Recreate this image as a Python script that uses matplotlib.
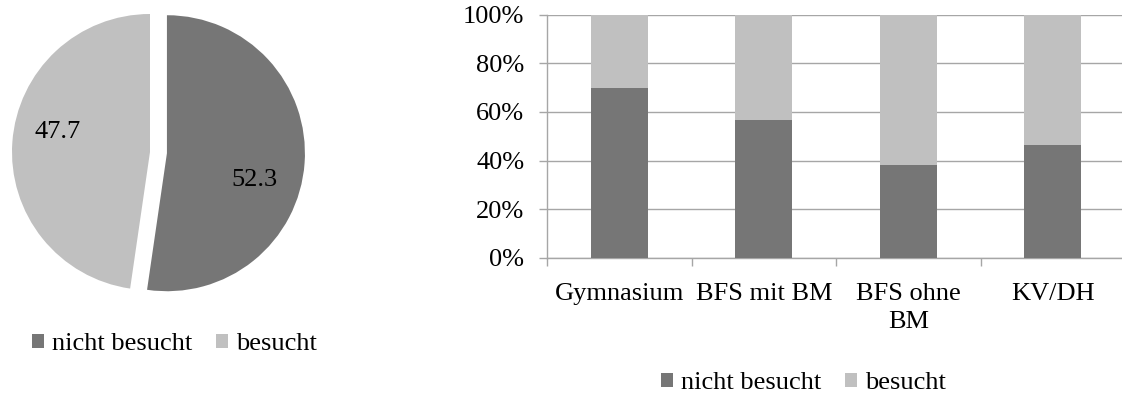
import matplotlib
matplotlib.use("Agg")
import matplotlib.pyplot as plt
from matplotlib.patches import Patch
from matplotlib.ticker import FixedLocator, PercentFormatter

plt.rcParams['font.family'] = ['Liberation Serif', 'DejaVu Serif']
FS = 19

# data
pie_labels = ['nicht besucht', 'besucht']
pie_values = [52.3, 47.7]

categories = ['Gymnasium', 'BFS mit BM', 'BFS ohne\nBM', 'KV/DH']
nicht_besucht = [69.8, 56.8, 38.0, 46.5]
besucht = [30.2, 43.2, 62.0, 53.5]

DARK = '#767676'
LIGHT = '#C0C0C0'
GRID = '#A6A6A6'

W, H = 1122, 396
fig = plt.figure(figsize=(W / 100, H / 100), dpi=100)

# pie: 1 data unit = 138 px, centre at (150, 152) from top-left
r_px = 138
ax_pie = fig.add_axes([0, 0, 330 / W, 1])
wedges, _, autotexts = ax_pie.pie(
    pie_values, colors=[DARK, LIGHT], startangle=90, counterclock=False,
    explode=[0.123, 0], autopct='%.1f', pctdistance=0.7,
    textprops={'fontsize': FS, 'color': 'black'}, frame=True)
ax_pie.set_xlim(-150 / r_px, 180 / r_px)
ax_pie.set_ylim(-(H - 152) / r_px, 152 / r_px)
ax_pie.set_aspect('auto')
ax_pie.axis('off')
# nudge value labels to where the original had them
autotexts[0].set_position((0.76, -0.20))
autotexts[1].set_position((-0.67, 0.145))

handles = [Patch(facecolor=DARK), Patch(facecolor=LIGHT)]
leg_kw = dict(ncol=2, frameon=False, fontsize=FS, handlelength=0.45,
              handleheight=0.45, handletextpad=0.3, columnspacing=0.9,
              borderpad=0, borderaxespad=0, loc='center left',
              bbox_transform=fig.transFigure)
fig.legend(handles, pie_labels, bbox_to_anchor=(32 / W, 52 / H), **leg_kw)

# stacked bars
x0, x1 = 547, 1125
y0, y1 = H - 257.7, H - 14.7
ax = fig.add_axes([x0 / W, y0 / H, (x1 - x0) / W, (y1 - y0) / H])
pos = range(len(categories))
ax.bar(pos, nicht_besucht, width=0.395, color=DARK, zorder=3)
ax.bar(pos, besucht, width=0.395, bottom=nicht_besucht, color=LIGHT, zorder=3)
ax.set_xlim(-0.5, len(categories) - 0.5)
ax.set_ylim(0, 100)
ax.yaxis.set_major_locator(FixedLocator([0, 20, 40, 60, 80, 100]))
ax.yaxis.set_major_formatter(PercentFormatter(decimals=0))
ax.grid(axis='y', color=GRID, linewidth=1.0, zorder=0)
for s in ['top', 'right']:
    ax.spines[s].set_visible(False)
for s in ['left', 'bottom']:
    ax.spines[s].set_color(GRID)
    ax.spines[s].set_linewidth(1.0)
ax.tick_params(axis='y', length=5.8, width=1.0, color=GRID, pad=10.5, labelsize=FS)

ax.set_xticks([i - 0.5 for i in range(len(categories) + 1)])
ax.set_xticklabels([])
ax.set_xticks(list(pos), minor=True)
ax.set_xticklabels(categories, minor=True, fontsize=FS, linespacing=1.4, va='top')
ax.tick_params(axis='x', which='major', length=5.8, width=1.0, color=GRID)
ax.tick_params(axis='x', which='minor', length=0, pad=18)

fig.legend(handles, pie_labels, bbox_to_anchor=(661 / W, 13 / H), **leg_kw)

fig.savefig('out.png', dpi=100)
